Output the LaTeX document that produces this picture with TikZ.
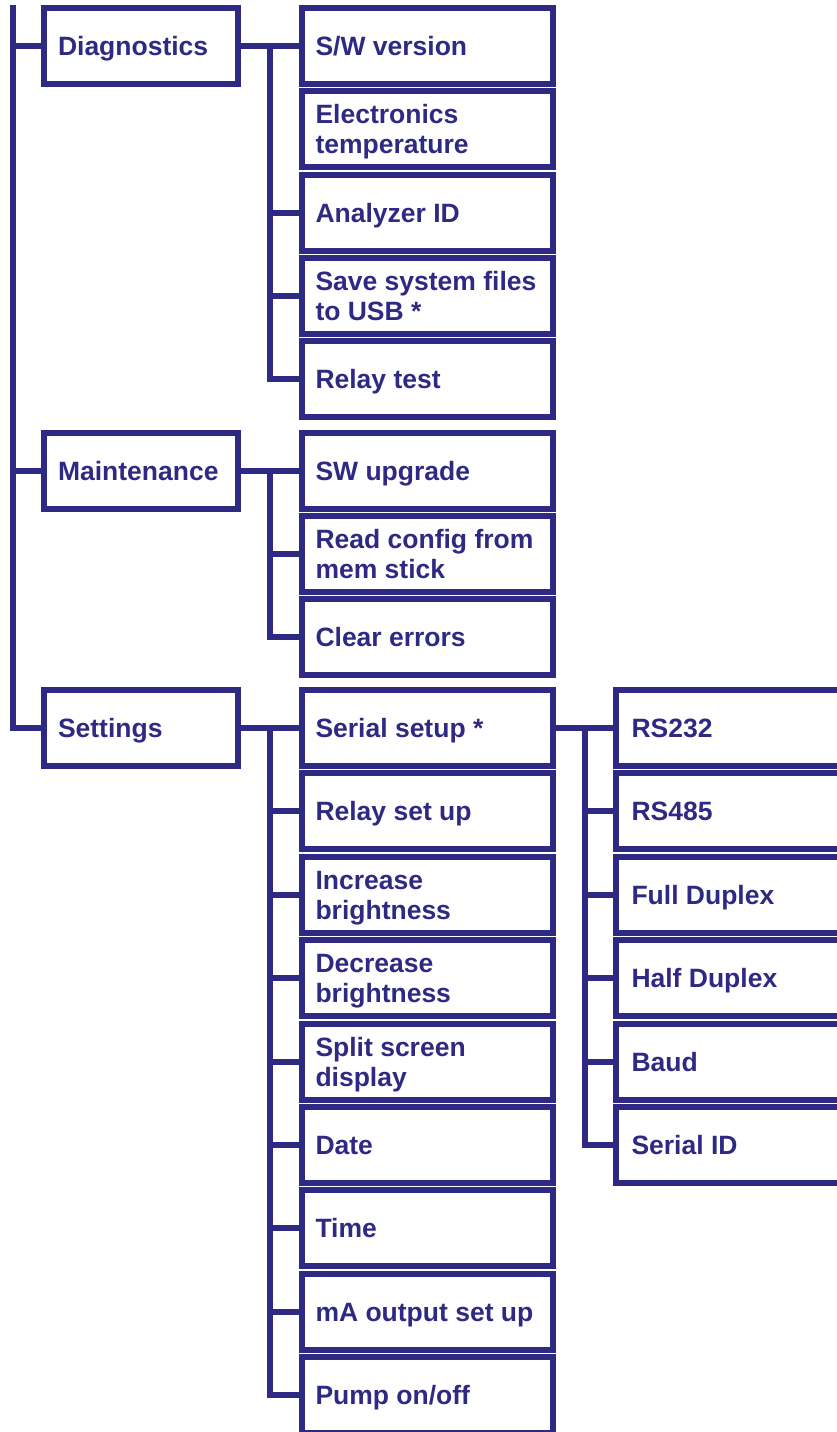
\documentclass[tikz,border=0pt]{standalone}
\usepackage{fontspec}
\setmainfont{Liberation Sans}
\definecolor{navy}{RGB}{46,41,131}
\begin{document}
\begin{tikzpicture}[x=1pt,y=-1pt,
  bx/.style={draw=navy, line width=6pt, rectangle, inner sep=0pt, outer sep=0pt, minimum height=76pt},
  lone/.style={bx, minimum width=194pt},
  ltwo/.style={bx, minimum width=251pt},
  lthree/.style={bx, minimum width=250pt},
  txt/.style={font=\fontsize{26.5}{30}\selectfont\bfseries, text=navy, inner sep=0pt, outer sep=0pt, anchor=base west},
  wire/.style={draw=navy, line width=6pt}]
\useasboundingbox (0,0) rectangle (837,1432);
\clip (0,0) rectangle (837,1432);

% level 1
\node[lone] (diag) at (141,46) {};
\node[lone] (maint) at (141,471) {};
\node[lone] (set) at (141,728) {};
\node[txt] (tdiag) at (58,55) {Diagnostics};
\node[txt] (tmaint) at (58,480) {Maintenance};
\node[txt] (tset) at (58,737) {Settings};

% level 2 - diagnostics
\node[ltwo] (sw) at (427.5,46) {};
\node[ltwo] (elec) at (427.5,129) {};
\node[ltwo] (anal) at (427.5,213) {};
\node[ltwo] (save) at (427.5,296) {};
\node[ltwo] (relay) at (427.5,379) {};
\node[txt] (tsw) at (315.5,55) {S/W version};
\node[txt] (telec) at (315.5,123) {\vtop{\hbox{Electronics}\hbox{temperature}}};
\node[txt] (tanal) at (315.5,222) {Analyzer ID};
\node[txt] (tsave) at (315.5,290) {\vtop{\hbox{Save system files}\hbox{to USB *}}};
\node[txt] (trelay) at (315.5,388) {Relay test};

% level 2 - maintenance
\node[ltwo] (swup) at (427.5,471) {};
\node[ltwo] (readc) at (427.5,554) {};
\node[ltwo] (clear) at (427.5,637) {};
\node[txt] (tswup) at (315.5,480) {SW upgrade};
\node[txt] (treadc) at (315.5,548) {\vtop{\hbox{Read config from}\hbox{mem stick}}};
\node[txt] (tclear) at (315.5,646) {Clear errors};

% level 2 - settings
\node[ltwo] (serial) at (427.5,728) {};
\node[ltwo] (rset) at (427.5,811) {};
\node[ltwo] (inc) at (427.5,895) {};
\node[ltwo] (dec) at (427.5,978) {};
\node[ltwo] (split) at (427.5,1062) {};
\node[ltwo] (date) at (427.5,1145) {};
\node[ltwo] (time) at (427.5,1228) {};
\node[ltwo] (ma) at (427.5,1312) {};
\node[ltwo] (pump) at (427.5,1395) {};
\node[txt] (tserial) at (315.5,737) {Serial setup *};
\node[txt] (trset) at (315.5,820) {Relay set up};
\node[txt] (tinc) at (315.5,889) {\vtop{\hbox{Increase}\hbox{brightness}}};
\node[txt] (tdec) at (315.5,972) {\vtop{\hbox{Decrease}\hbox{brightness}}};
\node[txt] (tsplit) at (315.5,1056) {\vtop{\hbox{Split screen}\hbox{display}}};
\node[txt] (tdate) at (315.5,1154) {Date};
\node[txt] (ttime) at (315.5,1237) {Time};
\node[txt] (tma) at (315.5,1321) {mA output set up};
\node[txt] (tpump) at (315.5,1404) {Pump on/off};

% level 3 - serial
\node[lthree] (rs232) at (741,728) {};
\node[lthree] (rs485) at (741,811) {};
\node[lthree] (full) at (741,895) {};
\node[lthree] (half) at (741,978) {};
\node[lthree] (baud) at (741,1062) {};
\node[lthree] (sid) at (741,1145) {};
\node[txt] (trs232) at (631.5,737) {RS232};
\node[txt] (trs485) at (631.5,820) {RS485};
\node[txt] (tfull) at (631.5,904) {Full Duplex};
\node[txt] (thalf) at (631.5,987) {Half Duplex};
\node[txt] (tbaud) at (631.5,1071) {Baud};
\node[txt] (tsid) at (631.5,1154) {Serial ID};

% trunk
\coordinate (ltop) at (13,5);
\draw[wire] (ltop) |- (set.west);
\draw[wire] (ltop |- diag.west) -- (diag.west);
\draw[wire] (ltop |- maint.west) -- (maint.west);

% diagnostics branch
\draw[wire] (diag.east) -- (sw.west);
\coordinate (dv) at (270,46);
\draw[wire] (dv) |- (relay.west);
\draw[wire] (dv |- anal.west) -- (anal.west);
\draw[wire] (dv |- save.west) -- (save.west);

% maintenance branch
\draw[wire] (maint.east) -- (swup.west);
\coordinate (mv) at (270,471);
\draw[wire] (mv) |- (clear.west);
\draw[wire] (mv |- readc.west) -- (readc.west);

% settings branch
\draw[wire] (set.east) -- (serial.west);
\coordinate (sv) at (270,728);
\draw[wire] (sv) |- (pump.west);
\foreach \n in {rset,inc,dec,split,date,time,ma}
  \draw[wire] (sv |- \n.west) -- (\n.west);

% serial branch
\draw[wire] (serial.east) -- (rs232.west);
\coordinate (rv) at (585,728);
\draw[wire] (rv) |- (sid.west);
\foreach \n in {rs485,full,half,baud}
  \draw[wire] (rv |- \n.west) -- (\n.west);
\end{tikzpicture}
\end{document}
